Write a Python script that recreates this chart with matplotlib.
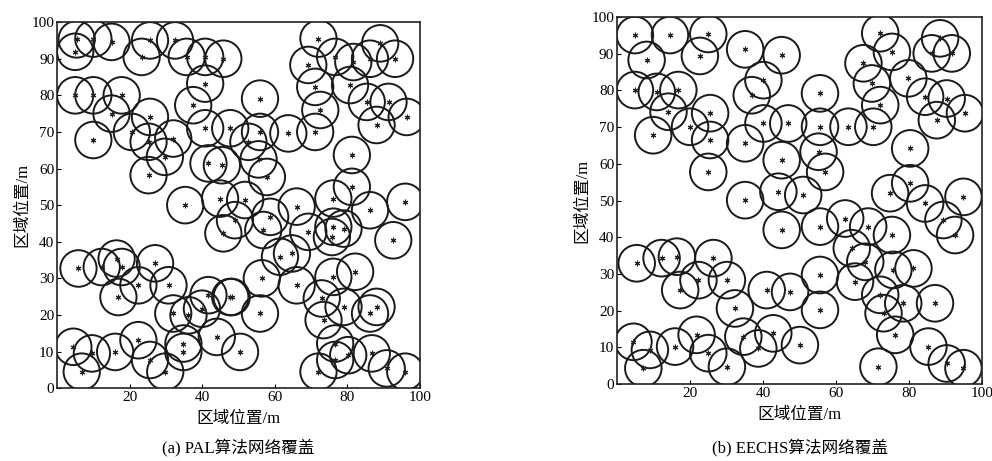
import matplotlib.pyplot as plt
from matplotlib.patches import Circle

plt.rcParams['font.family'] = ['Liberation Serif', 'Noto Sans CJK SC']

# node positions (m)
pal_x = [5.4, 5.0, 10.0, 15.0, 25.6, 23.3, 32.5, 35.7, 40.8, 45.8, 40.8, 37.5,
         5.0, 10.0, 17.8, 15.0, 25.6, 20.6, 10.0, 25.2, 32.0, 29.7, 25.2, 35.3,
         40.8, 47.7, 41.7, 45.4, 44.9,
         72.0, 69.2, 76.6, 81.6, 86.2, 89.0, 93.1, 71.1, 80.7, 85.3, 91.3, 72.5,
         88.0, 96.3, 71.1, 55.9, 63.7, 55.9, 52.7, 81.2, 57.8, 81.2, 76.1, 95.9,
         51.8, 55.5,
         5.9, 12.3, 16.4, 17.8, 16.9, 22.4, 27.0, 30.7, 32.0, 36.2, 39.9, 41.7,
         47.7, 44.0, 34.8, 34.8, 22.4, 25.6, 29.8, 4.5, 9.6, 6.8, 16.0, 49.0,
         45.8,
         86.2, 92.6, 76.1, 78.9, 75.7, 69.2, 61.4, 64.7, 56.8, 66.0, 55.9, 48.1,
         50.4, 76.1, 82.1, 72.9, 78.9, 88.0, 86.2, 73.4, 76.6, 80.2, 86.7, 76.6,
         72.0, 90.8, 95.9, 58.7, 66.0, 56.4]
pal_y = [95.3, 91.9, 95.5, 94.6, 95.0, 90.5, 95.0, 90.5, 90.5, 90.0, 83.2, 77.3,
         80.0, 80.0, 80.0, 75.0, 74.1, 70.0, 67.8, 67.3, 68.2, 63.2, 58.2, 50.0,
         71.0, 71.0, 61.4, 60.9, 51.8,
         95.5, 88.3, 90.5, 89.1, 90.0, 94.2, 90.0, 82.3, 82.8, 78.2, 78.2, 76.0,
         71.9, 74.1, 70.0, 79.1, 69.6, 70.0, 67.3, 63.7, 57.7, 55.0, 51.8, 50.9,
         51.4, 62.5,
         32.7, 33.1, 35.4, 33.1, 24.9, 28.1, 34.1, 28.1, 20.4, 19.9, 21.7, 25.4,
         24.9, 14.0, 12.2, 9.9, 13.1, 7.7, 4.5, 11.3, 9.5, 4.5, 9.9, 45.9,
         42.3,
         48.6, 40.4, 44.1, 43.6, 41.3, 42.7, 35.9, 36.8, 43.2, 28.1, 20.4, 24.9,
         9.9, 30.4, 31.8, 24.5, 22.2, 22.2, 20.4, 18.6, 12.2, 9.0, 9.5, 7.7,
         4.5, 5.4, 4.5, 46.8, 49.6, 30.0]

eechs_x = [4.9, 14.5, 25.0, 8.1, 22.7, 35.1, 45.1, 40.1, 36.9, 4.9, 10.9, 16.8,
           14.1, 9.9, 20.0, 25.5, 25.5, 25.0, 35.1, 40.1, 46.9, 45.1, 44.2, 35.1,
           72.1, 75.3, 67.5, 69.8, 72.1, 70.2, 63.4, 55.6, 55.6, 79.8, 84.4, 90.3,
           87.6, 95.3, 86.2, 88.5, 91.7, 80.3, 55.2, 57.0, 80.3, 74.8, 51.0, 94.9,
           84.4,
           5.4, 12.2, 16.4, 17.3, 22.3, 26.4, 30.1, 32.3, 41.0, 45.1, 4.5, 9.0,
           7.2, 15.9, 21.8, 25.0, 30.1, 34.6, 38.7, 42.8,
           55.6, 62.5, 68.8, 75.3, 64.3, 68.0, 75.7, 81.2, 65.2, 55.6, 47.4, 55.6,
           72.1, 78.4, 87.1, 73.0, 76.2, 50.1, 85.3, 90.3, 94.9, 71.6, 89.4, 92.6]
eechs_y = [95.1, 95.1, 95.4, 88.3, 89.4, 91.2, 89.6, 82.8, 78.7, 80.1, 79.6, 80.1,
           74.2, 67.8, 70.1, 73.8, 66.5, 57.8, 65.6, 71.0, 71.0, 61.0, 52.4, 50.1,
           95.6, 90.5, 87.4, 81.9, 76.0, 70.1, 70.1, 70.1, 79.2, 83.3, 78.3, 77.8,
           71.9, 73.8, 90.1, 94.2, 90.1, 64.2, 63.3, 57.8, 54.7, 52.0, 51.5, 51.0,
           49.2,
           32.9, 34.3, 34.7, 25.6, 28.3, 34.3, 28.3, 20.6, 25.6, 42.0, 11.5, 9.3,
           4.3, 10.2, 13.4, 8.4, 4.7, 12.9, 9.7, 13.8,
           42.9, 45.1, 42.9, 40.6, 37.0, 33.3, 31.1, 31.5, 27.9, 29.7, 25.1, 20.2,
           24.3, 22.0, 22.0, 19.3, 13.4, 10.6, 10.2, 5.6, 4.3, 4.7, 44.7, 40.6]

radius = 5.0
yticks = [0, 10, 20, 30, 40, 50, 60, 70, 80, 90, 100]
xticks = [20, 40, 60, 80, 100]
captions = ['(a) PAL算法网络覆盖', '(b) EECHS算法网络覆盖']

fig = plt.figure(figsize=(9.92, 4.61), dpi=100)
ax1 = fig.add_axes([0.0575, 0.158, 0.366, 0.794])
ax2 = fig.add_axes([0.622, 0.167, 0.368, 0.796])

for ax, xs, ys, cap, cy in [(ax1, pal_x, pal_y, captions[0], -0.162),
                            (ax2, eechs_x, eechs_y, captions[1], -0.172)]:
    for x, y in zip(xs, ys):
        ax.add_patch(Circle((x, y), radius, fill=False, lw=1.4, ec='#1a1a1a'))
    ax.plot(xs, ys, ls='none', marker=(6, 2, 0), ms=4, mew=0.8, color='#222222')
    ax.set_xlim(0, 100)
    ax.set_ylim(0, 100)
    ax.set_xticks(xticks)
    ax.set_yticks(yticks)
    ax.tick_params(direction='in', length=3, labelsize=11, pad=2)
    for s in ax.spines.values():
        s.set_linewidth(1.2)
        s.set_color('#222222')
    ax.set_xlabel('区域位置/m', fontsize=12, labelpad=5)
    ax.set_ylabel('区域位置/m', fontsize=12, labelpad=1)
    ax.text(0.5, cy, cap, transform=ax.transAxes, ha='center', va='center',
            fontsize=12)

fig.savefig('out.png', dpi=100)
